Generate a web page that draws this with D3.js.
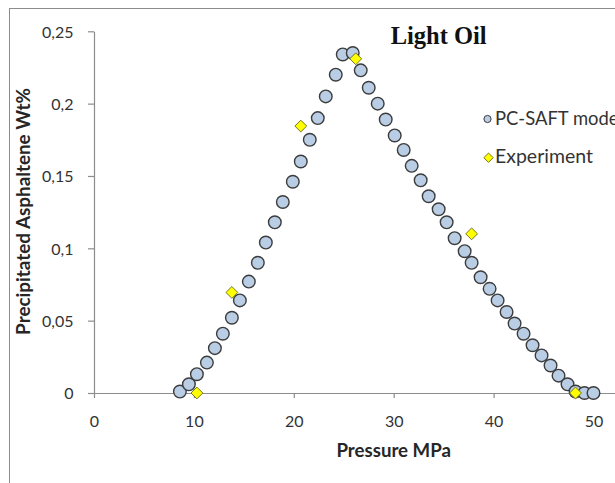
<!DOCTYPE html>
<html>
<head>
<meta charset="utf-8">
<script src="https://cdn.jsdelivr.net/npm/d3@7"></script>
<style>
  html, body { margin: 0; padding: 0; background: #fff; }
  svg { display: block; }
</style>
</head>
<body>
<svg id="chart" width="615" height="483"></svg>
<script>
// PC-SAFT model: precipitated asphaltene vs pressure
const modelPressure = [8.6, 9.5, 10.3, 11.3, 12.1, 12.9, 13.8, 14.6, 15.5, 16.4,
  17.2, 18.1, 18.9, 19.9, 20.7, 21.6, 22.4, 23.2, 24.2, 24.9,
  25.9, 26.7, 27.5, 28.4, 29.2, 30.1, 31.0, 31.8, 32.7, 33.5,
  34.5, 35.3, 36.1, 37.1, 37.8, 38.7, 39.6, 40.4, 41.3, 42.1,
  43.0, 43.9, 44.8, 45.7, 46.5, 47.4, 48.2, 49.1, 50.0];
const modelWt = [0.001, 0.006, 0.013, 0.021, 0.031, 0.041, 0.052, 0.064, 0.077, 0.090,
  0.104, 0.118, 0.132, 0.146, 0.160, 0.175, 0.190, 0.205, 0.220, 0.234,
  0.235, 0.223, 0.211, 0.200, 0.189, 0.178, 0.168, 0.157, 0.147, 0.136,
  0.127, 0.118, 0.107, 0.098, 0.090, 0.080, 0.072, 0.064, 0.056, 0.048,
  0.041, 0.033, 0.026, 0.019, 0.012, 0.006, 0.001, 0.000, 0.000];

// Experimental measurements
const expPressure = [10.3, 13.8, 20.7, 26.2, 37.8, 48.2];
const expWt = [0.000, 0.0695, 0.1845, 0.231, 0.110, 0.000];

const xTicks = [0, 10, 20, 30, 40, 50, 60];
const yTicks = [0, 0.05, 0.1, 0.15, 0.2, 0.25];

const chartTitle = "Light Oil";
const xTitle = "Pressure MPa";
const yTitle = "Precipitated Asphaltene Wt%";
const seriesNames = ["PC-SAFT model", "Experiment"];

const W = 615, H = 483;
const axisColor = "#8c8c8c";
const textColor = "#333333";
const sans = "Lato, 'Open Sans', sans-serif";

const svg = d3.select("#chart");
svg.append("rect").attr("width", W).attr("height", H).attr("fill", "#fff");

// outer chart frame (runs past the right and bottom edges)
svg.append("rect")
  .attr("x", 9.5).attr("y", 8.5)
  .attr("width", 700).attr("height", 600)
  .attr("fill", "none").attr("stroke", axisColor).attr("stroke-width", 1);

const x = d3.scaleLinear().domain([0, 60]).range([94, 693.4]);
const y = d3.scaleLinear().domain([0, 0.25]).range([393, 31.3]);

const fmt = d => d3.format("~g")(d).replace(".", ",");

// x axis
const gx = svg.append("g")
  .attr("transform", `translate(0,${y(0)})`)
  .call(d3.axisBottom(x).tickValues(xTicks).tickSize(5).tickSizeOuter(0).tickFormat(d3.format("d")));
gx.select(".domain").attr("stroke", axisColor).attr("stroke-width", 1.2);
gx.selectAll(".tick line").attr("stroke", axisColor).attr("stroke-width", 1.2);
gx.selectAll(".tick text")
  .attr("y", 33.7).attr("dy", null)
  .attr("fill", textColor)
  .attr("font-family", sans).attr("font-size", 16);

// y axis
const gy = svg.append("g")
  .attr("transform", `translate(${x(0)},0)`)
  .call(d3.axisLeft(y).tickValues(yTicks).tickSize(6).tickSizeOuter(0).tickFormat(fmt));
gy.select(".domain").attr("stroke", axisColor).attr("stroke-width", 1.2);
gy.selectAll(".tick line").attr("stroke", axisColor).attr("stroke-width", 1.2);
gy.selectAll(".tick text")
  .attr("x", -20.5).attr("dy", "0.36em")
  .attr("fill", textColor)
  .attr("font-family", sans).attr("font-size", 16);

// scale a text's font size so its rendered width hits a target
function fitWidth(sel, target) {
  const len = sel.node().getComputedTextLength();
  const fs = parseFloat(sel.attr("font-size"));
  if (len > 0) sel.attr("font-size", fs * target / len);
  return sel;
}

// axis titles
const xt = svg.append("text")
  .attr("x", 393.7).attr("y", 457.3)
  .attr("text-anchor", "middle")
  .attr("font-family", sans).attr("font-weight", "bold")
  .attr("font-size", 18).attr("fill", "#262626")
  .text(xTitle);
fitWidth(xt, 114.5);

const yt = svg.append("text")
  .attr("transform", "translate(30,211.5) rotate(-90)")
  .attr("text-anchor", "middle")
  .attr("font-family", sans).attr("font-weight", "bold")
  .attr("font-size", 18).attr("fill", "#262626")
  .text(yTitle);
fitWidth(yt, 247);

// chart title
svg.append("text")
  .attr("x", 438.7).attr("y", 44)
  .attr("text-anchor", "middle")
  .attr("font-family", "'Liberation Serif', 'Times New Roman', serif")
  .attr("font-weight", "bold").attr("font-size", 24.5)
  .attr("fill", "#111")
  .text(chartTitle);

// model points
const modelData = modelPressure.map((p, i) => ({ p, w: modelWt[i] }));
svg.append("g").selectAll("circle")
  .data(modelData).join("circle")
  .attr("cx", d => x(d.p)).attr("cy", d => y(d.w))
  .attr("r", 6.3)
  .attr("fill", "#b9cde5")
  .attr("stroke", "#3c3c3c").attr("stroke-width", 1.4);

// experiment points (diamonds)
const expData = expPressure.map((p, i) => ({ p, w: expWt[i] }));
const diamond = d3.symbol().type(d3.symbolSquare).size(69.6);
svg.append("g").selectAll("path")
  .data(expData).join("path")
  .attr("d", diamond)
  .attr("transform", d => `translate(${x(d.p)},${y(d.w)}) rotate(45)`)
  .attr("fill", "#ffff00")
  .attr("stroke", "#6e6e1e").attr("stroke-width", 0.9);

// legend
const legend = svg.append("g");
legend.append("circle")
  .attr("cx", 487.5).attr("cy", 119).attr("r", 3.6)
  .attr("fill", "#b9cde5").attr("stroke", "#3c3c3c").attr("stroke-width", 1);
legend.append("path")
  .attr("d", d3.symbol().type(d3.symbolSquare).size(44)())
  .attr("transform", "translate(488.5,157.7) rotate(45)")
  .attr("fill", "#ffff00").attr("stroke", "#6e6e1e").attr("stroke-width", 0.9);
const l1 = legend.append("text")
  .attr("x", 495).attr("y", 125)
  .attr("font-family", sans).attr("font-size", 19).attr("fill", textColor)
  .text(seriesNames[0]);
const l2 = legend.append("text")
  .attr("x", 495).attr("y", 163.3)
  .attr("font-family", sans).attr("font-size", 19).attr("fill", textColor)
  .text(seriesNames[1]);
fitWidth(l1, 128);
fitWidth(l2, 98);
</script>
</body>
</html>
